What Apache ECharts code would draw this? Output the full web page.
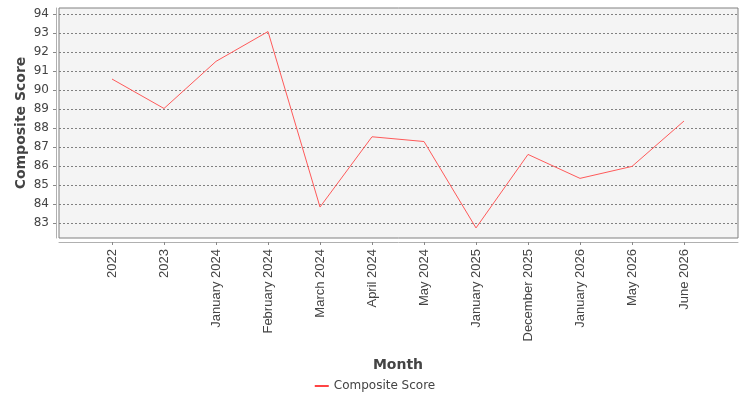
<!DOCTYPE html>
<html>
<head>
<meta charset="utf-8">
<script src="https://cdn.jsdelivr.net/npm/echarts@6/dist/echarts.min.js"></script>
<style>html,body{margin:0;padding:0;background:#fff}#c{width:750px;height:400px}</style>
</head>
<body>
<div id="c"></div>
<script>
const months = ['2022','2023','January 2024','February 2024','March 2024','April 2024','May 2024','January 2025','December 2025','January 2026','May 2026','June 2026'];
const compositeScore = [90.58, 89.03, 91.51, 93.08, 83.84, 87.54, 87.29, 82.74, 86.61, 85.35, 85.98, 88.37];
const yTicks = [83,84,85,86,87,88,89,90,91,92,93,94];
const yMin = 82.21, yMax = 94.32;

const chart = echarts.init(document.getElementById('c'), null, {renderer:'canvas'});
const txt = '#444';
chart.setOption({
  animation: false,
  backgroundColor: '#fff',
  grid: [
    {left:59, right:12, top:8, bottom:162, show:true, backgroundColor:'#f4f4f4', borderColor:'#808080', borderWidth:1},
    {left:112, right:66, top:8, bottom:162}
  ],
  xAxis: [
    {gridIndex:0, type:'value', min:0, max:1, offset:4,
     axisLine:{show:true, onZero:false, lineStyle:{color:'#b0b0b0', width:1}},
     axisTick:{show:false}, axisLabel:{show:false}, splitLine:{show:false}},
    {gridIndex:1, type:'category', data:months, boundaryGap:false, offset:4,
     axisLine:{show:false, onZero:false},
     axisTick:{show:true, length:3, lineStyle:{color:'#888'}},
     axisLabel:{rotate:90, margin:7, fontFamily:'Liberation Sans', fontSize:13, color:txt, interval:0},
     splitLine:{show:false},
     name:'Month', nameLocation:'middle', nameGap:116, nameMoveOverlap:false,
     nameTextStyle:{fontFamily:'DejaVu Sans', fontSize:14, fontWeight:'bold', color:txt}}
  ],
  yAxis: [
    {gridIndex:0, type:'value', min:yMin, max:yMax, offset:3,
     axisLine:{show:true, onZero:false, lineStyle:{color:'#b0b0b0', width:1}},
     axisTick:{show:true, length:3, customValues:yTicks, lineStyle:{color:'#888'}},
     axisLabel:{customValues:yTicks, margin:7, fontFamily:'DejaVu Sans', fontSize:12, color:txt},
     splitLine:{show:true, lineStyle:{color:'#808080', type:[2,2], width:1}},
     name:'Composite Score', nameLocation:'middle', nameGap:28, nameMoveOverlap:false,
     nameTextStyle:{fontFamily:'DejaVu Sans', fontSize:14, fontWeight:'bold', color:txt}},
    {gridIndex:1, type:'value', min:yMin, max:yMax, show:false}
  ],
  legend: {
    bottom: 3, left:'center',
    itemWidth:14, itemHeight:2, itemGap:10,
    icon:'rect',
    textStyle:{fontFamily:'DejaVu Sans', fontSize:12, color:txt},
    data:['Composite Score']
  },
  series: [{
    name:'Composite Score', type:'line', xAxisIndex:1, yAxisIndex:1,
    data: compositeScore, showSymbol:false, symbol:'none',
    lineStyle:{color:'#ff5a5a', width:1}, itemStyle:{color:'#ff4444'}
  }]
});
</script>
</body>
</html>
